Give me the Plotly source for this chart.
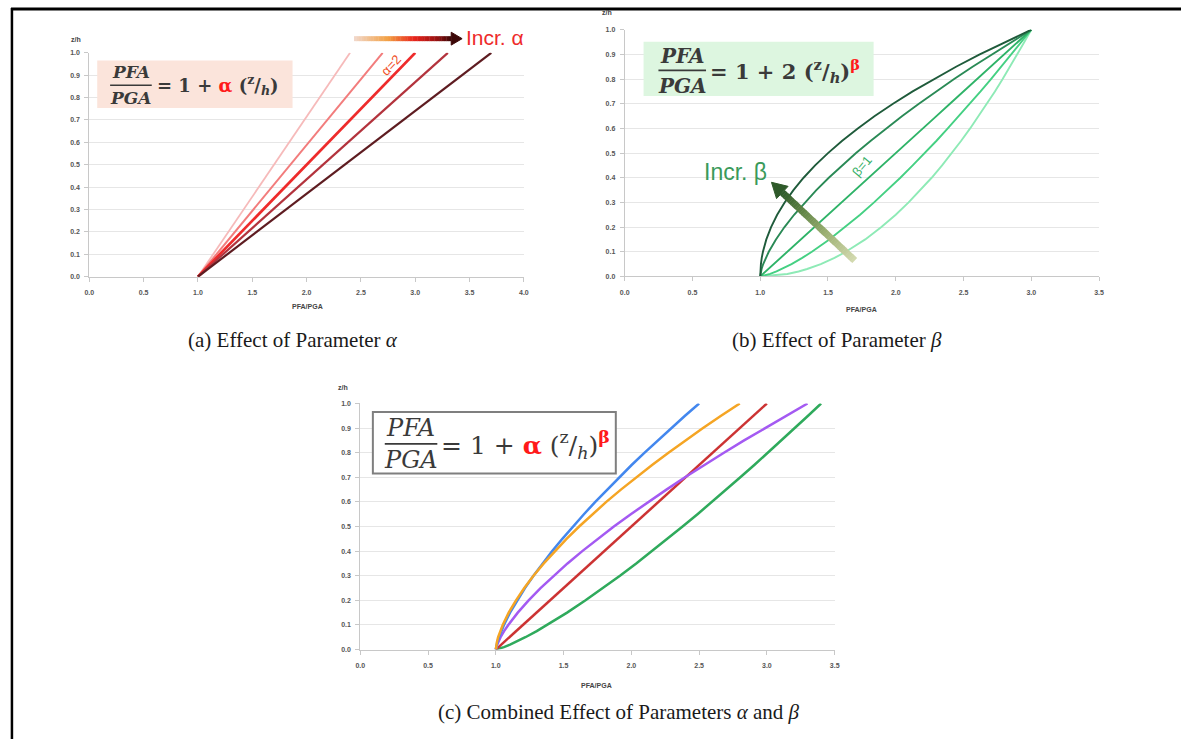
import plotly.graph_objects as go

W, H = 1186, 742

# ---------------- data ----------------
# (a) effect of alpha: straight lines from PFA/PGA = 1 at z/h = 0 to the top of the chart
a_z = [0.0, 1.0]
a_x_start = 1.0
a_x_end = [2.4, 2.7, 3.0, 3.3, 3.7]
a_colors = ["#f6baba", "#f27c7c", "#ee2b2b", "#b3333d", "#5e1c21"]
a_widths = [1.8, 2.0, 2.7, 2.2, 2.2]

# (b) effect of beta  (PFA/PGA read at each z/h level)
b_z = [0.0, 0.005, 0.01, 0.02, 0.03, 0.05, 0.075, 0.1, 0.15, 0.2, 0.25, 0.3, 0.35, 0.4,
       0.45, 0.5, 0.55, 0.6, 0.65, 0.7, 0.75, 0.8, 0.85, 0.9, 0.95, 1.0]
b_x_lightest = [1.0, 1.141, 1.2, 1.283, 1.346, 1.447, 1.548, 1.632, 1.775, 1.894, 2.0, 2.095, 2.183,
                2.265, 2.342, 2.414, 2.483, 2.549, 2.612, 2.673, 2.732, 2.789, 2.844, 2.897, 2.949, 3.0]
b_x_light = [1.0, 1.044, 1.073, 1.12, 1.16, 1.231, 1.31, 1.381, 1.51, 1.628, 1.737, 1.84, 1.939,
             2.034, 2.125, 2.214, 2.301, 2.384, 2.467, 2.547, 2.626, 2.703, 2.779, 2.854, 2.928, 3.0]
b_x_beta1 = [1.0, 1.01, 1.02, 1.04, 1.06, 1.10, 1.15, 1.2, 1.3, 1.4, 1.5, 1.6, 1.7, 1.8,
             1.9, 2.0, 2.1, 2.2, 2.3, 2.4, 2.5, 2.6, 2.7, 2.8, 2.9, 3.0]
b_x_dark = [1.0, 1.001, 1.002, 1.006, 1.01, 1.022, 1.041, 1.063, 1.116, 1.179, 1.25, 1.329, 1.414,
            1.506, 1.604, 1.707, 1.816, 1.93, 2.048, 2.171, 2.299, 2.431, 2.567, 2.708, 2.852, 3.0]
b_x_darkest = [1.0, 1.0001, 1.0002, 1.0008, 1.0018, 1.005, 1.011, 1.02, 1.045, 1.08, 1.125, 1.18,
               1.245, 1.32, 1.405, 1.5, 1.605, 1.72, 1.845, 1.98, 2.125, 2.28, 2.445, 2.62, 2.805, 3.0]
b_series = [b_x_lightest, b_x_light, b_x_beta1, b_x_dark, b_x_darkest]
b_colors = ["#8eeab6", "#45d083", "#2fb368", "#2a8a56", "#1f5b3b"]

# (c) combined effect
c_z = b_z
c_x_green = [1.0, 1.035, 1.06, 1.105, 1.145, 1.218, 1.302, 1.38, 1.526, 1.662, 1.792, 1.916, 2.036,
             2.153, 2.267, 2.378, 2.488, 2.595, 2.70, 2.804, 2.907, 3.008, 3.107, 3.206, 3.304, 3.4]
c_x_red = [1.0, 1.01, 1.02, 1.04, 1.06, 1.10, 1.15, 1.2, 1.3, 1.4, 1.5, 1.6, 1.7, 1.8,
           1.9, 2.0, 2.1, 2.2, 2.3, 2.4, 2.5, 2.6, 2.7, 2.8, 2.9, 3.0]
c_x_purple = [1.0, 1.001, 1.004, 1.01, 1.017, 1.035, 1.061, 1.092, 1.162, 1.242, 1.33, 1.426, 1.529,
              1.638, 1.752, 1.871, 1.996, 2.125, 2.259, 2.396, 2.537, 2.683, 2.832, 2.985, 3.141, 3.3]
c_x_orange = [1.0, 1.0005, 1.0014, 1.004, 1.008, 1.017, 1.032, 1.051, 1.095, 1.149, 1.21, 1.278, 1.354,
              1.435, 1.522, 1.615, 1.712, 1.815, 1.923, 2.036, 2.153, 2.274, 2.399, 2.529, 2.662, 2.8]
c_x_blue = [1.0, 1.0009, 1.0024, 1.006, 1.011, 1.023, 1.04, 1.06, 1.105, 1.158, 1.215, 1.278, 1.345,
            1.416, 1.491, 1.568, 1.65, 1.734, 1.821, 1.911, 2.002, 2.098, 2.195, 2.294, 2.396, 2.5]
c_series = [c_x_green, c_x_red, c_x_purple, c_x_blue, c_x_orange]
c_colors = ["#2faa5c", "#cc3333", "#a45af2", "#4387ee", "#f5a524"]

y_ticks = [0.0, 0.1, 0.2, 0.3, 0.4, 0.5, 0.6, 0.7, 0.8, 0.9, 1.0]
a_x_ticks = [0.0, 0.5, 1.0, 1.5, 2.0, 2.5, 3.0, 3.5, 4.0]
bc_x_ticks = [0.0, 0.5, 1.0, 1.5, 2.0, 2.5, 3.0, 3.5]


def fx(x):
    return x / W


def fy(y):
    return 1 - y / H


fig = go.Figure()

for xe, col, wd in zip(a_x_end, a_colors, a_widths):
    fig.add_trace(go.Scatter(x=[a_x_start, xe], y=a_z, mode="lines",
                             line=dict(color=col, width=wd),
                             xaxis="x", yaxis="y", showlegend=False, hoverinfo="skip"))

for xs, col in zip(b_series, b_colors):
    fig.add_trace(go.Scatter(x=xs, y=b_z, mode="lines",
                             line=dict(color=col, width=1.9),
                             xaxis="x2", yaxis="y2", showlegend=False, hoverinfo="skip"))

for xs, col in zip(c_series, c_colors):
    fig.add_trace(go.Scatter(x=xs, y=c_z, mode="lines",
                             line=dict(color=col, width=2.5),
                             xaxis="x3", yaxis="y3", showlegend=False, hoverinfo="skip"))

tickfont = dict(family="Liberation Sans", size=7, color="#555555", weight="bold")


def xaxis(dom, rng, ticks, anchor):
    return dict(domain=dom, range=rng, tickvals=ticks, ticktext=["%.1f" % t for t in ticks],
                showgrid=False, zeroline=False, showline=True, linecolor="#c8c8c8", linewidth=1,
                ticks="outside", ticklen=4, tickcolor="#c8c8c8", tickfont=tickfont,
                ticklabelstandoff=5, anchor=anchor, fixedrange=True)


def yaxis(dom, anchor):
    return dict(domain=dom, range=[0, 1], tickvals=y_ticks, ticktext=["%.1f" % t for t in y_ticks],
                showgrid=True, gridcolor="#e6e6e6", gridwidth=1, zeroline=False,
                showline=True, linecolor="#c8c8c8", linewidth=1,
                ticks="outside", ticklen=4, tickcolor="#c8c8c8", tickfont=tickfont,
                ticklabelstandoff=3, anchor=anchor, fixedrange=True)


# pixel boxes of the three plot areas
A = (85, 523.3, 49.3, 275.3)
B = (625, 1103.3, 26, 275)
C = (358.3, 836.7, 403.3, 651.7)

fig.update_layout(
    width=W, height=H, margin=dict(l=0, r=0, t=0, b=0),
    paper_bgcolor="white", plot_bgcolor="white",
    xaxis=xaxis([fx(A[0]), fx(A[1])], [0, 4], a_x_ticks, "y"),
    yaxis=yaxis([fy(A[3]), fy(A[2])], "x"),
    xaxis2=xaxis([fx(B[0]), fx(B[1])], [0, 3.5], bc_x_ticks, "y2"),
    yaxis2=yaxis([fy(B[3]), fy(B[2])], "x2"),
    xaxis3=xaxis([fx(C[0]), fx(C[1])], [0, 3.5], bc_x_ticks, "y3"),
    yaxis3=yaxis([fy(C[3]), fy(C[2])], "x3"),
)

shapes = []
annots = []


def text(x, y, s, size, color="#333333", family="Liberation Sans", weight="normal",
         xanchor="center", angle=0):
    annots.append(dict(x=fx(x), y=fy(y), xref="paper", yref="paper", text=s, showarrow=False,
                       xanchor=xanchor, yanchor="middle", textangle=angle,
                       font=dict(size=size, color=color, family=family, weight=weight)))


def rect(x0, y0, x1, y1, fill, line_color=None, lw=0):
    shapes.append(dict(type="rect", xref="paper", yref="paper", x0=fx(x0), x1=fx(x1),
                       y0=fy(y1), y1=fy(y0), fillcolor=fill, layer="above",
                       line=dict(color=line_color or fill, width=lw)))


def hline(x0, x1, y, color, w):
    shapes.append(dict(type="line", xref="paper", yref="paper", x0=fx(x0), x1=fx(x1),
                       y0=fy(y), y1=fy(y), line=dict(color=color, width=w), layer="above"))


def hexrgb(h):
    h = h.lstrip("#")
    return tuple(int(h[i:i + 2], 16) for i in (0, 2, 4))


def stop_color(stops, t):
    for (t0, c0), (t1, c1) in zip(stops[:-1], stops[1:]):
        if t <= t1:
            f = (t - t0) / (t1 - t0) if t1 > t0 else 0
            a, b = hexrgb(c0), hexrgb(c1)
            return "rgb(%d,%d,%d)" % tuple(round(a[i] + (b[i] - a[i]) * f) for i in range(3))
    return stops[-1][1]


def grad_arrow(tail, tip, shaft_w, head_len, head_w, stops, head_color, n=40):
    import math
    dx, dy = tip[0] - tail[0], tip[1] - tail[1]
    L = math.hypot(dx, dy)
    ux, uy = dx / L, dy / L
    bx, by = tip[0] - ux * head_len, tip[1] - uy * head_len
    for i in range(n):
        t0, t1 = i / n, min((i + 1.15) / n, 1.0)
        x0, y0 = tail[0] + (bx - tail[0]) * t0, tail[1] + (by - tail[1]) * t0
        x1, y1 = tail[0] + (bx - tail[0]) * t1, tail[1] + (by - tail[1]) * t1
        shapes.append(dict(type="line", xref="paper", yref="paper", x0=fx(x0), y0=fy(y0),
                           x1=fx(x1), y1=fy(y1), layer="above",
                           line=dict(color=stop_color(stops, (i + 0.5) / n), width=shaft_w)))
    nx, ny = -uy, ux
    p1 = (bx + nx * head_w / 2, by + ny * head_w / 2)
    p2 = (bx - nx * head_w / 2, by - ny * head_w / 2)
    path = "M %f,%f L %f,%f L %f,%f Z" % (fx(p1[0]), fy(p1[1]), fx(tip[0]), fy(tip[1]),
                                         fx(p2[0]), fy(p2[1]))
    shapes.append(dict(type="path", xref="paper", yref="paper", path=path, layer="above",
                       fillcolor=head_color, line=dict(color=head_color, width=1)))


EQF = "DejaVu Serif"
EQC = "#3a3a3a"
RED = "#ff1a1a"

# ---- equation (a)
rect(93, 57, 290, 105, "#fbe4db")
text(127, 69, "<i>PFA</i>", 17, EQC, EQF, "bold")
text(127, 95, "<i>PGA</i>", 17, EQC, EQF, "bold")
hline(106, 148, 82, EQC, 1.6)
text(151, 82, "= 1 + <span style='color:%s'>α</span> (<sup>z</sup>/<sub><i>h</i></sub>)" % RED,
     18, EQC, EQF, "bold", xanchor="left")

# ---- equation (b)
rect(644, 38, 876, 93, "#ddf6e0")
text(683, 52, "<i>PFA</i>", 20, EQC, EQF, "bold")
text(683, 83, "<i>PGA</i>", 20, EQC, EQF, "bold")
hline(659, 707, 67, EQC, 1.8)
text(709, 68, "= 1 + 2 (<sup>z</sup>/<sub><i>h</i></sub>)<sup><span style='color:%s'>β</span></sup>" % RED,
     21, EQC, EQF, "bold", xanchor="left")

# ---- equation (c)
rect(371, 412, 616, 474, "white", "#7f7f7f", 2)
text(409, 428, "<i>PFA</i>", 24, EQC, EQF, "normal")
text(409, 460, "<i>PGA</i>", 24, EQC, EQF, "normal")
hline(383, 436, 444, EQC, 1.8)
text(438, 445, "= 1 + <b><span style='color:%s'>α</span></b> (<sup>z</sup>/<sub><i>h</i></sub>)"
     "<sup><b><span style='color:%s'>β</span></b></sup>" % (RED, RED),
     25, EQC, EQF, "normal", xanchor="left")

# ---- arrows and labels
grad_arrow((352, 35), (461, 35), 5, 11, 13,
           [(0, "#f1d8cc"), (0.35, "#f2a043"), (0.62, "#e8241c"), (0.85, "#981212"), (1, "#3c0808")],
           "#3c0808")
text(463, 34, "Incr. α", 21, "#ee2b2b", "Liberation Sans", xanchor="left")
text(389, 62, "α=2", 13, "#f0502a", "Liberation Sans", angle=-47)

grad_arrow((857, 259), (773, 180), 7, 15, 17,
           [(0, "#d4dab0"), (0.4, "#9cb072"), (0.75, "#5b8042"), (1, "#2f5a2a")],
           "#2f5a2a")
text(737, 170, "Incr. β", 23, "#3a9a5a", "Liberation Sans")
text(864, 164, "β=1", 13, "#36b068", "Liberation Sans", angle=-50)

# ---- axis titles
for (x, y, s) in [(72, 36, "z/h"), (305, 305, "PFA/PGA"), (607, 9, "z/h"),
                  (864, 308, "PFA/PGA"), (341, 387, "z/h"), (597, 688, "PFA/PGA")]:
    text(x, y, s, 7, "#444444", "Liberation Sans", "bold")

# ---- captions
CAPF = "Liberation Serif"
text(290, 339, "(a) Effect of Parameter <i>α</i>", 21, "#1a1a1a", CAPF)
text(839, 339, "(b) Effect of Parameter <i>β</i>", 21, "#1a1a1a", CAPF)
text(619, 715, "(c) Combined Effect of Parameters <i>α</i> and <i>β</i>", 21, "#1a1a1a", CAPF)

# ---- page frame
shapes.append(dict(type="line", xref="paper", yref="paper", x0=fx(6), x1=1, y0=fy(5), y1=fy(5),
                   line=dict(color="black", width=3), layer="above"))
shapes.append(dict(type="line", xref="paper", yref="paper", x0=fx(7), x1=fx(7), y0=fy(4), y1=0,
                   line=dict(color="black", width=2.5), layer="above"))

fig.update_layout(shapes=shapes, annotations=annots)
fig.write_html("out.html", config=dict(displayModeBar=False))
